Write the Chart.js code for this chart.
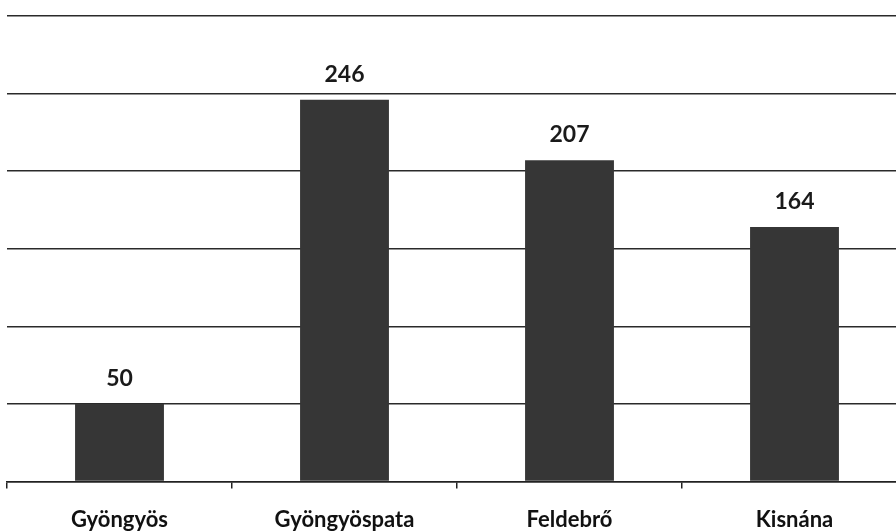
<!DOCTYPE html>
<html><head><meta charset="utf-8">
<script src="https://cdn.jsdelivr.net/npm/chart.js@4/dist/chart.umd.min.js"></script>
<style>
html,body{margin:0;padding:0;background:#fff;overflow:hidden;width:896px;height:531px;}
#wrap{width:910px;height:531px;overflow:hidden;}
</style></head><body>
<div id="wrap"><canvas id="c" width="910" height="551"></canvas></div>
<script>
const categories = ["Gyöngyös", "Gyöngyöspata", "Feldebrő", "Kisnána"];
const values = [50, 246, 207, 164];
const yTicks = [0, 50, 100, 150, 200, 250, 300];

const dataLabels = {
  id: 'dataLabels',
  afterDatasetsDraw(chart) {
    const ctx = chart.ctx;
    const meta = chart.getDatasetMeta(0);
    ctx.save();
    ctx.fillStyle = '#1a1a1a';
    ctx.font = 'bold 23px Lato, "Open Sans", sans-serif';
    ctx.textAlign = 'center';
    ctx.textBaseline = 'bottom';
    meta.data.forEach((bar, i) => {
      ctx.fillText(String(values[i]), bar.x, bar.y - 14);
    });
    ctx.restore();
  }
};

new Chart(document.getElementById('c'), {
  type: 'bar',
  data: {
    labels: categories,
    datasets: [{
      data: values,
      backgroundColor: '#363636',
      borderWidth: 0,
      categoryPercentage: 1,
      barPercentage: 0.395
    }]
  },
  options: {
    responsive: false,
    animation: false,
    layout: { padding: { left: 7, right: 3, top: 16, bottom: 0 } },
    plugins: { legend: { display: false }, tooltip: { enabled: false } },
    scales: {
      x: {
        grid: { display: true, drawOnChartArea: false, offset: true, tickLength: 7, color: '#222', lineWidth: 1.5 },
        border: { display: true, color: '#222', width: 1.5 },
        ticks: { color: '#111', padding: 18, font: { family: 'Lato, "Open Sans", sans-serif', size: 22, weight: 'bold' } }
      },
      y: {
        min: 0, max: 300,
        afterBuildTicks(axis) { axis.ticks = yTicks.map(v => ({ value: v })); },
        grid: { color: '#2a2a2a', lineWidth: 1.5, drawTicks: false },
        border: { display: false },
        ticks: { display: false }
      }
    }
  },
  plugins: [dataLabels]
});
</script>
</body></html>
